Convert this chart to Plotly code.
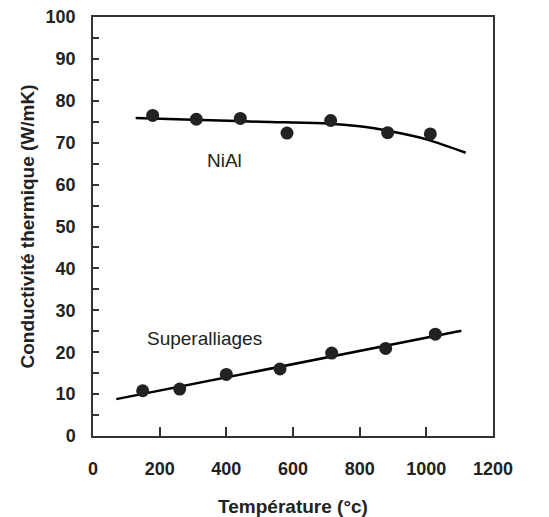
import plotly.graph_objects as go

# Data
niai_temp = [179, 310, 442, 582, 713, 884, 1012]
niai_cond = [76.5, 75.6, 75.8, 72.3, 75.3, 72.4, 72.1]
niai_fit_temp = [128, 300, 500, 700, 800, 900, 1000, 1118]
niai_fit_cond = [75.9, 75.5, 75.0, 74.6, 73.9, 72.6, 70.8, 67.6]

super_temp = [149, 260, 400, 561, 716, 878, 1027]
super_cond = [10.8, 11.2, 14.7, 16.0, 19.8, 20.9, 24.3]
super_fit_temp = [70, 1105]
super_fit_cond = [8.8, 25.1]

x_ticks = [0, 200, 400, 600, 800, 1000, 1200]
y_ticks = [0, 10, 20, 30, 40, 50, 60, 70, 80, 90, 100]

FONT = "Liberation Sans, Arial, sans-serif"

fig = go.Figure()
fig.add_trace(go.Scatter(x=niai_fit_temp, y=niai_fit_cond, mode="lines",
                         line=dict(color="black", width=2.5, shape="spline"),
                         showlegend=False, hoverinfo="skip"))
fig.add_trace(go.Scatter(x=super_fit_temp, y=super_fit_cond, mode="lines",
                         line=dict(color="black", width=2.5),
                         showlegend=False, hoverinfo="skip"))
fig.add_trace(go.Scatter(x=niai_temp, y=niai_cond, mode="markers",
                         marker=dict(color="#222222", size=13), showlegend=False))
fig.add_trace(go.Scatter(x=super_temp, y=super_cond, mode="markers",
                         marker=dict(color="#222222", size=13), showlegend=False))

fig.add_annotation(x=394, y=65.7, text="NiAl", showarrow=False,
                   font=dict(family=FONT, size=19, color="#222"))
fig.add_annotation(x=334, y=23.2, text="Superalliages", showarrow=False,
                   font=dict(family=FONT, size=19, color="#222"))

fig.update_layout(
    width=549, height=517,
    margin=dict(l=93, r=56, t=17, b=81),
    paper_bgcolor="white", plot_bgcolor="white",
    font=dict(family=FONT, color="#222"),
)
fig.update_xaxes(
    range=[0, 1200], tickvals=x_ticks, ticks="inside", ticklen=9, tickwidth=1.5,
    tickcolor="#333", showline=True, linecolor="#333", linewidth=1.5, mirror=True,
    showgrid=False, zeroline=False, ticklabelstandoff=16, automargin=False,
    ticklabeloverflow="allow",
    tickfont=dict(family=FONT, size=18, weight="bold"),
    title=dict(text="Température (°c)", font=dict(family=FONT, size=19, weight="bold"), standoff=23),
)
fig.update_yaxes(
    range=[0, 100], tickvals=y_ticks, ticks="inside", ticklen=6, tickwidth=1.5,
    tickcolor="#333", showline=True, linecolor="#333", linewidth=1.5, mirror=True,
    showgrid=False, zeroline=False, ticklabelstandoff=12, automargin=False,
    ticklabeloverflow="allow",
    tickfont=dict(family=FONT, size=18, weight="bold"),
    minor=dict(dtick=5, ticks="inside", ticklen=6, tickwidth=1.5, tickcolor="#333"),
    title=dict(text="Conductivité thermique (W/mK)", font=dict(family=FONT, size=19, weight="bold"), standoff=6),
)

fig.write_html("out.html", config={"displayModeBar": False},
               post_script="document.body.style.margin='0';document.body.style.overflow='hidden';")
